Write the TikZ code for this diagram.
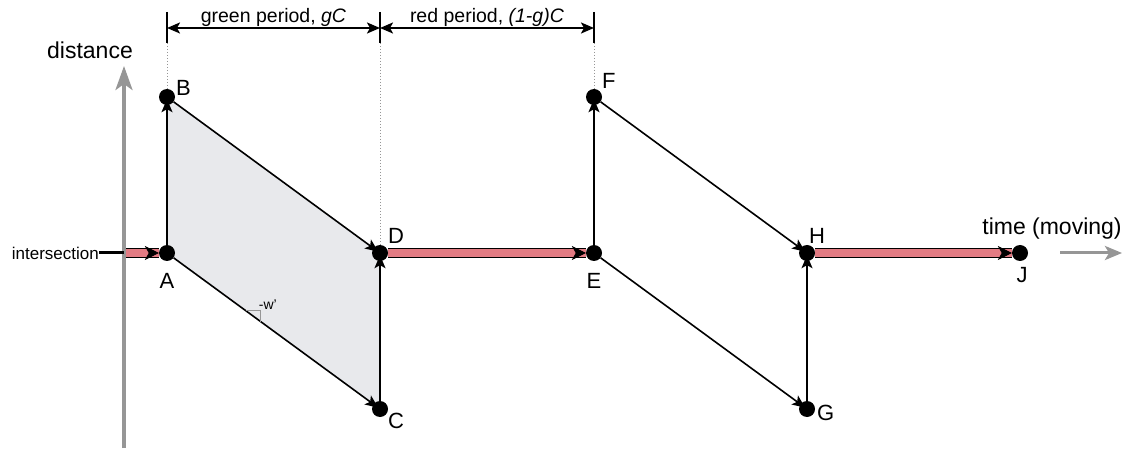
\documentclass[tikz,border=0pt]{standalone}
\usepackage{fontspec}
\setmainfont{Liberation Sans}
\usetikzlibrary{arrows.meta, calc, backgrounds, decorations.markings}
\definecolor{barred}{RGB}{226,123,131}
\definecolor{axisgray}{RGB}{150,150,150}
\definecolor{shadegray}{RGB}{232,233,236}

\tikzset{
  dot/.style={circle, fill=black, inner sep=0pt, minimum size=16pt},
  lbl/.style={font=\fontsize{22}{26}\selectfont, inner sep=0pt},
  move/.style={-{Stealth[length=13pt,width=11pt,inset=3pt]}, line width=1.6pt, shorten >=-6pt},
  redbar/.style={draw=barred, line width=7.5pt,
    preaction={draw=black, line width=10.5pt},
    postaction={decorate, decoration={markings,
      mark=at position 1 with {\arrow{Stealth[length=14pt,width=14pt,inset=4pt,line width=0.5pt,color=black]}}}}},
  gaxis/.style={axisgray, line width=3.5pt, -{Stealth[length=24pt,width=17pt,inset=6pt]}},
  dimline/.style={line width=2pt, {Stealth[length=13pt,width=11pt,inset=3pt]}-{Stealth[length=13pt,width=11pt,inset=3pt]}},
  guide/.style={axisgray, dotted, line width=1pt},
}

\begin{document}
\begin{tikzpicture}[x=1pt, y=-1pt]
\useasboundingbox (0,0) rectangle (1132,454);

% time axis points
\node[dot] (A) at (167,253) {};
\node[dot] (B) at (167,97) {};
\node[dot] (C) at (380,409) {};
\node[dot] (D) at (380,253) {};
\node[dot] (E) at (594,253) {};
\node[dot] (F) at (594,97) {};
\node[dot] (G) at (807,409) {};
\node[dot] (H) at (807,253) {};
\node[dot] (J) at (1020,253) {};

\node[lbl, anchor=base] (lA) at (167,288) {A};
\node[lbl, anchor=base west] (lB) at (176,96) {B};
\node[lbl, anchor=base west] (lC) at (388,428) {C};
\node[lbl, anchor=base west] (lD) at (388,244) {D};
\node[lbl, anchor=base] (lE) at (594,288) {E};
\node[lbl, anchor=base west] (lF) at (602,89) {F};
\node[lbl, anchor=base west] (lG) at (817,420) {G};
\node[lbl, anchor=base west] (lH) at (809,244) {H};
\node[lbl, anchor=base] (lJ) at (1022,283) {J};

\begin{scope}[on background layer]
\fill[shadegray] (A.center) -- (B.center) -- (D.center) -- (C.center) -- cycle;
\end{scope}

% distance axis
\coordinate (ax0) at (124,448);
\coordinate (ax1) at (124,66);
\draw[gaxis] (ax0) -- (ax1);
\node[lbl, font=\fontsize{23}{27}\selectfont] (dist) at (90,50) {distance};

% intersection
\coordinate (I) at (124,253);
\node[font=\fontsize{17}{20}\selectfont, inner sep=0pt, anchor=east] (int) at (99,253) {intersection};
\draw[line width=3pt] (int.east) -- (I);

% red bars
\begin{scope}[on background layer]
\draw[redbar] (I) -- (A);
\draw[redbar] (D) -- (E);
\draw[redbar] (H) -- (J);
\end{scope}

% trajectories
\draw[move] (A) -- (B);
\draw[move] (B) -- (D);
\draw[move] (A) -- (C);
\draw[move] (C) -- (D);
\draw[move] (E) -- (F);
\draw[move] (F) -- (H);
\draw[move] (E) -- (G);
\draw[move] (G) -- (H);

% slope mark
\coordinate (w1) at ($(A)!0.37!(C)$);
\coordinate (w2) at ($(A)!0.44!(C)$);
\draw[axisgray, line width=1pt] (w1) -- (w1 -| w2) -- (w2);
\node[font=\fontsize{14}{16}\selectfont, anchor=south west, inner sep=1pt] (wlbl) at ($(w1 -| w2)+(-3,0)$) {-w'};

% signal periods
\coordinate (gs) at (167,28);
\coordinate (gm) at (380,28);
\coordinate (re) at (594,28);
\foreach \p in {gs,gm,re}
  \draw[line width=1.6pt] ($(\p)+(0,-16)$) -- ($(\p)+(0,15)$);
\draw[dimline] (gs) -- (gm) node[midway, above=-3pt, font=\fontsize{19.5}{22}\selectfont] {green period, \textit{gC}};
\draw[dimline] (gm) -- (re) node[midway, above=-3pt, font=\fontsize{19.5}{22}\selectfont] {red period, \textit{(1-g)C}};
\draw[guide] ($(gs)+(0,15)$) -- (B.north);
\draw[guide] ($(gm)+(0,15)$) -- (D.north);
\draw[guide] ($(re)+(0,15)$) -- (F.north);

% moving time
\node[lbl, font=\fontsize{23}{27}\selectfont] (tm) at (1052,229) {time (moving)};
\draw[gaxis, line width=3pt, -{Stealth[length=17pt,width=14pt,inset=4pt]}] (1060,253) -- (1122,253);

\end{tikzpicture}
\end{document}
